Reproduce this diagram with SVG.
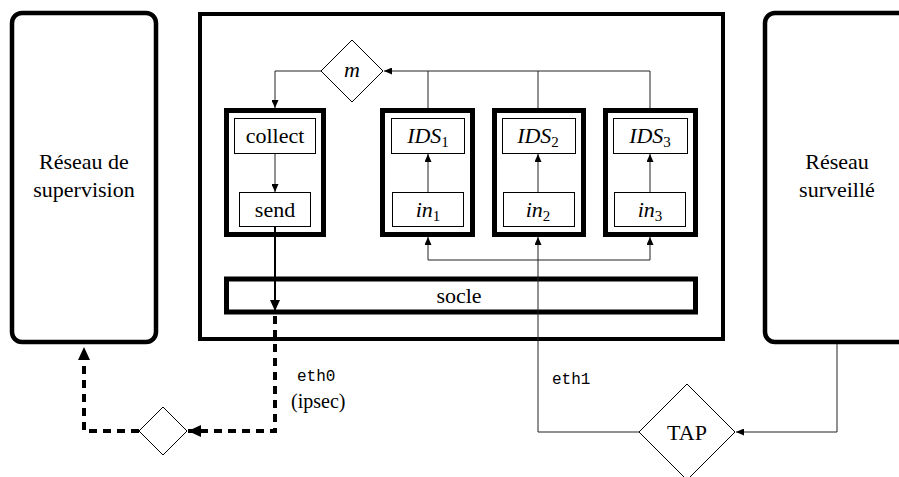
<svg xmlns="http://www.w3.org/2000/svg" width="899" height="477" viewBox="0 0 899 477">
<style>
  .t { font-family: "Liberation Serif", "Times New Roman", "DejaVu Serif", serif; font-size: 22px; fill: #000; text-anchor: middle; }
  .m { font-style: italic; }
  .sub { font-style: normal; font-size: 15px; }
  .tt { font-family: "Liberation Mono", "Courier New", monospace; font-size: 16px; fill: #000; }
  .net { fill: #fff; stroke: #000; stroke-width: 4.5; }
  .big { fill: #fff; stroke: #000; stroke-width: 4; }
  .grp { fill: #fff; stroke: #000; stroke-width: 5; }
  .box { fill: #fff; stroke: #000; stroke-width: 1; }
  .dia { fill: #fff; stroke: #000; stroke-width: 1; }
  .ln { fill: none; stroke: #222; stroke-width: 1; }
  .thick { fill: none; stroke: #000; stroke-width: 2; }
  .dash { fill: none; stroke: #000; stroke-width: 4; stroke-dasharray: 8 6; }
</style>
<defs>
  <marker id="a" markerUnits="userSpaceOnUse" markerWidth="8" markerHeight="7" refX="8" refY="3.5" orient="auto">
    <path d="M0,0 L8,3.5 L0,7 z" fill="#000"/>
  </marker>
  <marker id="am" markerUnits="userSpaceOnUse" markerWidth="11" markerHeight="10" refX="11" refY="5" orient="auto">
    <path d="M0,0 L11,5 L0,10 z" fill="#000"/>
  </marker>
  <marker id="ab" markerUnits="userSpaceOnUse" markerWidth="13" markerHeight="12" refX="13" refY="6" orient="auto">
    <path d="M0,0 L13,6 L0,12 z" fill="#000"/>
  </marker>
</defs>

<g id="reseau-supervision">
  <rect class="net" x="12" y="13" width="144" height="329" rx="10"/>
  <text class="t" x="84" y="169">Réseau de</text>
  <text class="t" x="84" y="197">supervision</text>
</g>

<g id="reseau-surveille">
  <rect class="net" x="765" y="13" width="160" height="329" rx="10"/>
  <text class="t" x="837" y="169">Réseau</text>
  <text class="t" x="837" y="197">surveillé</text>
</g>

<g id="sonde">
  <rect class="big" x="200" y="14" width="523" height="325"/>
</g>

<g id="socle">
  <rect class="grp" x="226.5" y="279" width="469" height="33"/>
  <text class="t" x="459" y="303">socle</text>
</g>

<g id="grp-collect">
  <rect class="grp" x="226.5" y="110.5" width="97" height="124"/>
</g>
<g id="collect">
  <rect class="box" x="234.5" y="118.5" width="81" height="35"/>
  <text class="t" x="275" y="143">collect</text>
</g>
<g id="send">
  <rect class="box" x="239.5" y="192.5" width="71" height="34"/>
  <text class="t" x="275" y="217">send</text>
</g>

<g id="grp-ids1">
  <rect class="grp" x="382.5" y="110.5" width="90" height="124"/>
</g>
<g id="ids1">
  <rect class="box" x="391.5" y="118.5" width="73" height="35"/>
  <text class="t m" x="428" y="143">IDS<tspan class="sub" dy="4">1</tspan></text>
</g>
<g id="in1">
  <rect class="box" x="392.5" y="192.5" width="71" height="34"/>
  <text class="t m" x="428" y="217">in<tspan class="sub" dy="4">1</tspan></text>
</g>

<g id="grp-ids2">
  <rect class="grp" x="494.5" y="110.5" width="89" height="124"/>
</g>
<g id="ids2">
  <rect class="box" x="502.5" y="118.5" width="73" height="35"/>
  <text class="t m" x="538" y="143">IDS<tspan class="sub" dy="4">2</tspan></text>
</g>
<g id="in2">
  <rect class="box" x="503.5" y="192.5" width="71" height="34"/>
  <text class="t m" x="538" y="217">in<tspan class="sub" dy="4">2</tspan></text>
</g>

<g id="grp-ids3">
  <rect class="grp" x="605.5" y="110.5" width="90" height="124"/>
</g>
<g id="ids3">
  <rect class="box" x="613.5" y="118.5" width="74" height="35"/>
  <text class="t m" x="650" y="143">IDS<tspan class="sub" dy="4">3</tspan></text>
</g>
<g id="in3">
  <rect class="box" x="614.5" y="192.5" width="71" height="34"/>
  <text class="t m" x="650" y="217">in<tspan class="sub" dy="4">3</tspan></text>
</g>

<g id="m">
  <polygon class="dia" points="352,40 383,71 352,102 321,71"/>
  <text class="t m" x="352" y="77">m</text>
</g>

<g id="relais">
  <polygon class="dia" points="163,407 187,431 163,455 139,431"/>
</g>

<g id="tap">
  <polygon class="dia" points="687,384 735,432 687,480 639,432"/>
  <text class="t" x="687" y="440">TAP</text>
</g>

<g id="connectors">
  <path class="ln" d="M428,108 V71 M538,108 V71 M650,108 V71 H384" marker-end="url(#a)"/>
  <path class="ln" d="M321,71 H275 V108" marker-end="url(#a)"/>
  <path class="ln" d="M275,154 V192" marker-end="url(#a)"/>
  <path class="ln" d="M428,192 V154" marker-end="url(#a)"/>
  <path class="ln" d="M538,192 V154" marker-end="url(#a)"/>
  <path class="ln" d="M650,192 V154" marker-end="url(#a)"/>
  <path class="ln" d="M538,260 H428 V237" marker-end="url(#a)"/>
  <path class="ln" d="M538,260 H650 V237" marker-end="url(#a)"/>
  <path class="ln" d="M639,432 H538 V237" marker-end="url(#a)"/>
  <path class="ln" d="M837,344 V432 H736" marker-end="url(#a)"/>
  <path class="thick" d="M275,227 V311" marker-end="url(#am)"/>
  <path class="dash" d="M275,316 V431 H188" marker-end="url(#ab)"/>
  <path class="dash" d="M139,431 H84 V347" marker-end="url(#ab)"/>
</g>

<g id="labels">
  <text class="tt" x="297" y="381">eth0</text>
  <text class="t" x="291" y="408" style="text-anchor:start;font-size:20px">(ipsec)</text>
  <text class="tt" x="552" y="384">eth1</text>
</g>
</svg>
